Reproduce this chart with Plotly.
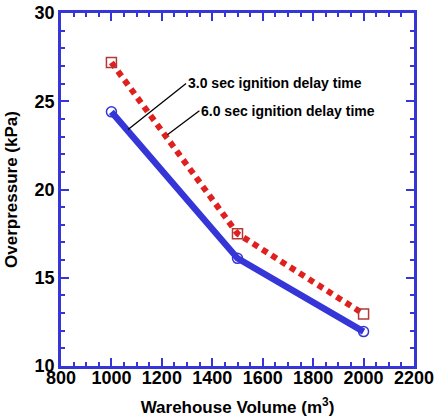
import plotly.graph_objects as go

volume = [1000, 1500, 2000]
p_3s = [24.4, 16.1, 11.95]
p_6s = [27.2, 17.5, 12.95]

label_3s = "3.0 sec ignition delay time"
label_6s = "6.0 sec ignition delay time"

BLUE = "#3535d8"
RED = "#e0201e"
DARKRED = "#b03a3a"
FONT = "Liberation Sans, Arial, sans-serif"

fig = go.Figure()
fig.add_trace(go.Scatter(x=volume, y=p_6s, mode="lines", line=dict(color=RED, width=6, dash="6px,5px"), showlegend=False))
fig.add_trace(go.Scatter(x=volume, y=p_6s, mode="markers",
                         marker=dict(symbol="square-open", size=10, color=DARKRED, line=dict(width=1.5)), showlegend=False))
fig.add_trace(go.Scatter(x=volume, y=p_3s, mode="lines", line=dict(color=BLUE, width=6.5), showlegend=False))
fig.add_trace(go.Scatter(x=volume, y=p_3s, mode="markers",
                         marker=dict(symbol="circle-open", size=10, color=BLUE, line=dict(width=1.5)), showlegend=False))

ann_font = dict(family=FONT, size=14, color="black", weight="bold")
fig.add_annotation(x=1066, y=23.4, ax=58, ay=-46, text=label_3s, showarrow=True, arrowhead=0,
                   arrowwidth=1.3, arrowcolor="black", xanchor="left", yanchor="middle", font=ann_font)
fig.add_annotation(x=1222, y=23.1, ax=32, ay=-24, text=label_6s, showarrow=True, arrowhead=0,
                   arrowwidth=1.3, arrowcolor="black", xanchor="left", yanchor="middle", font=ann_font)

axis_common = dict(showline=True, linecolor=BLUE, linewidth=2.5, mirror="ticks", ticks="inside",
                   tickcolor=BLUE, tickwidth=2, ticklen=8, showgrid=False, zeroline=False, automargin=False,
                   tickfont=dict(family=FONT, size=18, color="black", weight="bold"))
title_font = dict(family=FONT, size=17, color="black", weight="bold")
fig.update_xaxes(range=[800, 2200], tickvals=list(range(800, 2201, 200)),
                 minor=dict(tickvals=list(range(800, 2201, 50)), ticks="inside", ticklen=4, tickcolor=BLUE, tickwidth=2),
                 title=dict(text="Warehouse Volume (m<sup>3</sup>)", font=title_font, standoff=15),
                 ticklabelstandoff=-6, **axis_common)
fig.update_yaxes(range=[10, 30], tickvals=list(range(10, 31, 5)),
                 minor=dict(tickvals=list(range(10, 31, 1)), ticks="inside", ticklen=4, tickcolor=BLUE, tickwidth=2),
                 title=dict(text="Overpressure (kPa)", font=title_font, standoff=13),
                 **axis_common)
fig.update_layout(width=435, height=417, margin=dict(l=61, r=21, t=13, b=51),
                  paper_bgcolor="white", plot_bgcolor="white",
                  font=dict(family=FONT, color="black"))
fig.write_html("out.html", config={"displayModeBar": False},
               post_script="document.body.style.margin='0';")
